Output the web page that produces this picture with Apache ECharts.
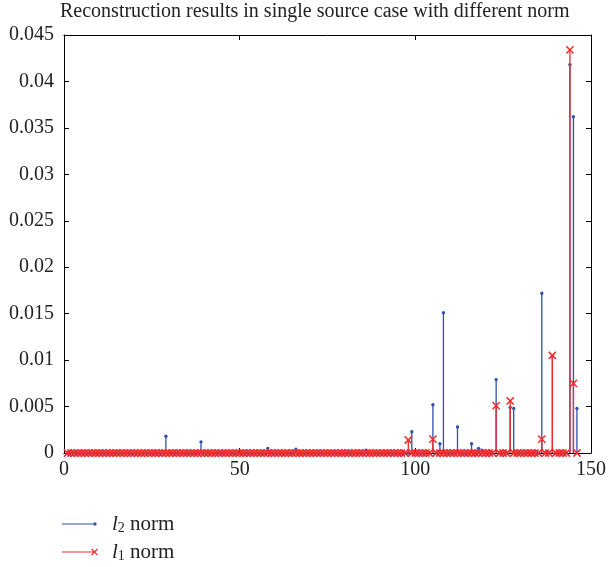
<!DOCTYPE html>
<html><head><meta charset="utf-8">
<script src="https://cdn.jsdelivr.net/npm/echarts@6/dist/echarts.min.js"></script>
<style>html,body{margin:0;padding:0;background:#fff}#c{width:609px;height:567px}</style>
</head><body><div id="c"></div>
<script>
// ---- data ----
const sampleCount = 146;               // samples 1..146
const l2Index  = [29, 39, 58, 66, 86, 99, 105, 107, 108, 112, 116, 118, 119, 123, 127, 128, 136, 139, 144, 145, 146];
const l2Values = [0.0018, 0.0012, 0.0005, 0.0004, 0.0003, 0.0023, 0.0052, 0.0010, 0.0151, 0.0028, 0.0010, 0.0005, 0.0003, 0.0079, 0.0049, 0.0048, 0.0172, 0.0104, 0.0418, 0.0362, 0.0048];
const l1Index  = [98, 105, 123, 127, 136, 139, 144, 145];
const l1Values = [0.0014, 0.0015, 0.0051, 0.0056, 0.0015, 0.0105, 0.0434, 0.0075];
const xTicks = [0, 50, 100, 150];
const yTicks = [0, 0.005, 0.01, 0.015, 0.02, 0.025, 0.03, 0.035, 0.04, 0.045];
const seriesNames = ['l2 norm', 'l1 norm'];
const titleText = 'Reconstruction results in single source case with different norm';

// ---- build full stem data (zero where no stem is visible) ----
function fullSeries(idx, vals) {
  const out = [];
  for (let i = 1; i <= sampleCount; i++) {
    const k = idx.indexOf(i);
    out.push([i, k >= 0 ? vals[k] : 0]);
  }
  return out;
}
const l2Data = fullSeries(l2Index, l2Values);
const l1Data = fullSeries(l1Index, l1Values);

const BLUE = '#2f4fae', RED = '#f42a2a';
const FONT = '"Liberation Serif", "DejaVu Serif", serif';

function stem(kind) {
  return function (params, api) {
    const x = api.value(0), y = api.value(1);
    const b = api.coord([x, 0]), t = api.coord([x, y]);
    const ch = [];
    const col = kind === 'dot' ? BLUE : RED;
    if (y !== 0) ch.push({type: 'line', shape: {x1: b[0], y1: b[1], x2: t[0], y2: t[1]}, style: {stroke: col, lineWidth: 1.3}});
    if (kind === 'dot') {
      ch.push({type: 'circle', shape: {cx: t[0], cy: t[1], r: 1.7}, style: {fill: col}});
    } else {
      const s = 3.6;
      ch.push({type: 'line', shape: {x1: t[0]-s, y1: t[1]-s, x2: t[0]+s, y2: t[1]+s}, style: {stroke: col, lineWidth: 1.5}});
      ch.push({type: 'line', shape: {x1: t[0]-s, y1: t[1]+s, x2: t[0]+s, y2: t[1]-s}, style: {stroke: col, lineWidth: 1.5}});
    }
    return {type: 'group', children: ch};
  };
}

function axisCommon() {
  return {
    axisLine: {show: true, onZero: false, lineStyle: {color: '#000', width: 1}},
    axisTick: {show: true, inside: true, length: 5, lineStyle: {color: '#000'}},
    splitLine: {show: false}
  };
}
const labelStyle = {color: '#222', fontSize: 20, fontFamily: FONT};

const iconL2 = 'path://M0,0 M36,8 M0,3.4 L33,3.4 L33,4.6 L0,4.6 Z M31.6,2.6 L34.4,2.6 L34.4,5.4 L31.6,5.4 Z';
const iconL1 = 'path://M0,0 M36,8 M0,3.4 L33,3.4 L33,4.6 L0,4.6 Z M29.5,1.2 L30.5,0.5 L36.5,6.8 L35.5,7.5 Z M29.5,6.8 L35.5,0.5 L36.5,1.2 L30.5,7.5 Z';

const chart = echarts.init(document.getElementById('c'), null, {renderer: 'canvas'});
chart.setOption({
  animation: false,
  backgroundColor: '#fff',
  title: {text: titleText, left: 60, top: 0, padding: [2, 0, 0, 0],
    textStyle: {fontSize: 20, fontWeight: 'normal', color: '#222', fontFamily: FONT}},
  grid: {left: 64, right: 17, top: 35, bottom: 114, containLabel: false},
  xAxis: [
    Object.assign({type: 'value', min: xTicks[0], max: xTicks[xTicks.length-1], interval: 50, position: 'bottom',
      axisLabel: Object.assign({margin: 7}, labelStyle)}, axisCommon()),
    Object.assign({type: 'value', min: xTicks[0], max: xTicks[xTicks.length-1], interval: 50, position: 'top',
      axisLabel: {show: false}}, axisCommon())
  ],
  yAxis: [
    Object.assign({type: 'value', min: yTicks[0], max: yTicks[yTicks.length-1], interval: 0.005, position: 'left',
      axisLabel: Object.assign({margin: 10}, labelStyle)}, axisCommon()),
    Object.assign({type: 'value', min: yTicks[0], max: yTicks[yTicks.length-1], interval: 0.005, position: 'right',
      axisLabel: {show: false}}, axisCommon())
  ],
  legend: {
    orient: 'vertical', left: 62, top: 513, padding: 0, itemWidth: 36, itemHeight: 8, itemGap: 6, height: 54,
    data: [{name: seriesNames[0], icon: iconL2, itemStyle: {color: BLUE}},
           {name: seriesNames[1], icon: iconL1, itemStyle: {color: RED}}],
    formatter: function (n) { return n === seriesNames[0] ? '{i|l}{s|2}{t| norm}' : '{i|l}{s|1}{t| norm}'; },
    textStyle: {color: '#222', fontFamily: FONT, fontSize: 21, lineHeight: 22, padding: [0, 0, 0, 9],
      rich: {i: {fontStyle: 'italic', fontSize: 21, fontFamily: FONT, color: '#222', lineHeight: 22},
             s: {fontSize: 14, fontFamily: FONT, color: '#222', verticalAlign: 'bottom', lineHeight: 15},
             t: {fontSize: 21, fontFamily: FONT, color: '#222', lineHeight: 22}}}
  },
  series: [
    {name: seriesNames[0], type: 'custom', xAxisIndex: 0, yAxisIndex: 0, clip: false, renderItem: stem('dot'),
      itemStyle: {color: BLUE}, encode: {x: 0, y: 1}, data: l2Data, z: 2},
    {name: seriesNames[1], type: 'custom', xAxisIndex: 0, yAxisIndex: 0, clip: false, renderItem: stem('x'),
      itemStyle: {color: RED}, encode: {x: 0, y: 1}, data: l1Data, z: 3}
  ]
});
</script></body></html>
